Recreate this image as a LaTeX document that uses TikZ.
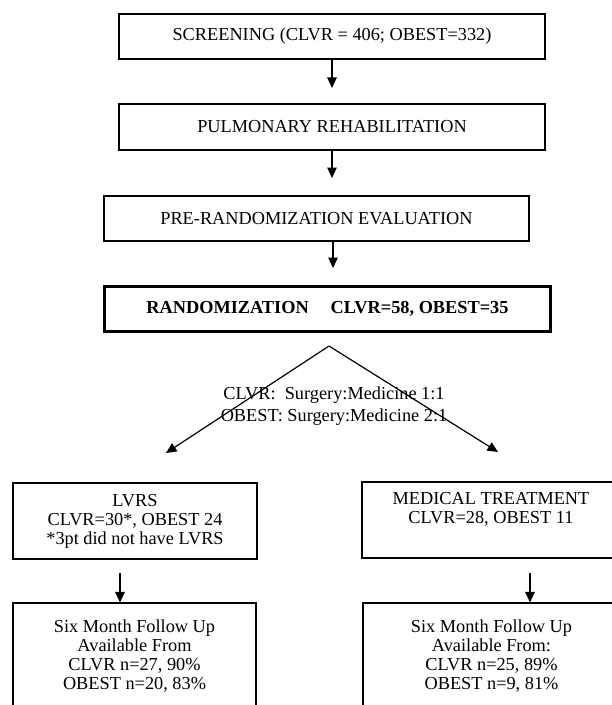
\documentclass[tikz,border=0pt]{standalone}
\usepackage{fontspec}
\setmainfont{Liberation Serif}
\usetikzlibrary{arrows.meta,calc}
\tikzset{
  fc box/.style={
    rectangle,
    draw=black,
    line width=1.2bp,
    inner sep=0pt,
    align=center,
    font=\fontsize{18.3bp}{19bp}\selectfont,
  },
  fc main box/.style={
    fc box,
    line width=3.4bp,
    font=\fontsize{18.3bp}{19bp}\selectfont\bfseries,
  },
  fc label/.style={
    align=center,
    inner sep=0pt,
    font=\fontsize{18.3bp}{21.5bp}\selectfont,
  },
  fc arrow/.style={-{Triangle[length=10.5bp,width=9.5bp]}, line width=1.2bp},
  fc line/.style={line width=1.2bp},
}

\begin{document}
\begin{tikzpicture}[x=1bp,y=-1bp]
  \useasboundingbox (0,0) rectangle (612,705);

  % screening chain
  \node[fc box,minimum width=426bp,minimum height=45bp] (screen) at (332,36.5)
    {SCREENING (CLVR = 406; OBEST=332)};
  \node[fc box,minimum width=426bp,minimum height=46bp] (rehab) at (332,127)
    {PULMONARY REHABILITATION};
  \node[fc box,minimum width=425bp,minimum height=45bp] (preeval) at (316.5,218.5)
    {PRE-RANDOMIZATION EVALUATION};
  \node[fc main box,minimum width=446bp,minimum height=45bp] (random) at (327.5,309)
    {RANDOMIZATION\hspace{1.2em}CLVR=58, OBEST=35};

  \coordinate (screen end) at (332,88);
  \coordinate (rehab end) at (332,178);
  \coordinate (preeval end) at (333,268);

  \draw[fc arrow] (screen.south) -- (screen end);
  \draw[fc arrow] (rehab.south) -- (rehab end);
  \draw[fc arrow] (preeval end |- preeval.south) -- (preeval end);

  % split into the two arms
  \coordinate (split) at (329,346);
  \coordinate (lvrs end) at (166,453);
  \coordinate (med end) at (498,452);
  \draw[fc arrow] (split) -- (lvrs end);
  \draw[fc arrow] (split) -- (med end);

  \node[fc label] (ratio) at (334,406)
    {CLVR:\ \ Surgery:Medicine 1:1\\OBEST: Surgery:Medicine 2:1};

  % arms
  \node[fc box,minimum width=244bp,minimum height=76bp] (lvrs) at (135,521)
    {LVRS\\CLVR=30*, OBEST 24\\*3pt did not have LVRS};
  \node[fc box,minimum width=258bp,minimum height=76bp] (medical) at (491,520)
    {MEDICAL TREATMENT\\CLVR=28, OBEST 11\\\strut};

  \node[fc box,minimum width=243bp,minimum height=106bp] (lvrs follow) at (134.5,656)
    {Six Month Follow Up\\Available From\\CLVR n=27, 90\%\\OBEST n=20, 83\%};
  \node[fc box,minimum width=257bp,minimum height=106bp] (med follow) at (491.5,656)
    {Six Month Follow Up\\Available From:\\CLVR n=25, 89\%\\OBEST n=9, 81\%};

  \coordinate (lvrs start) at (120,573);
  \coordinate (med start) at (530,573);
  \draw[fc arrow] (lvrs start) -- (lvrs start |- lvrs follow.north);
  \draw[fc arrow] (med start) -- (med start |- med follow.north);
\end{tikzpicture}
\end{document}
